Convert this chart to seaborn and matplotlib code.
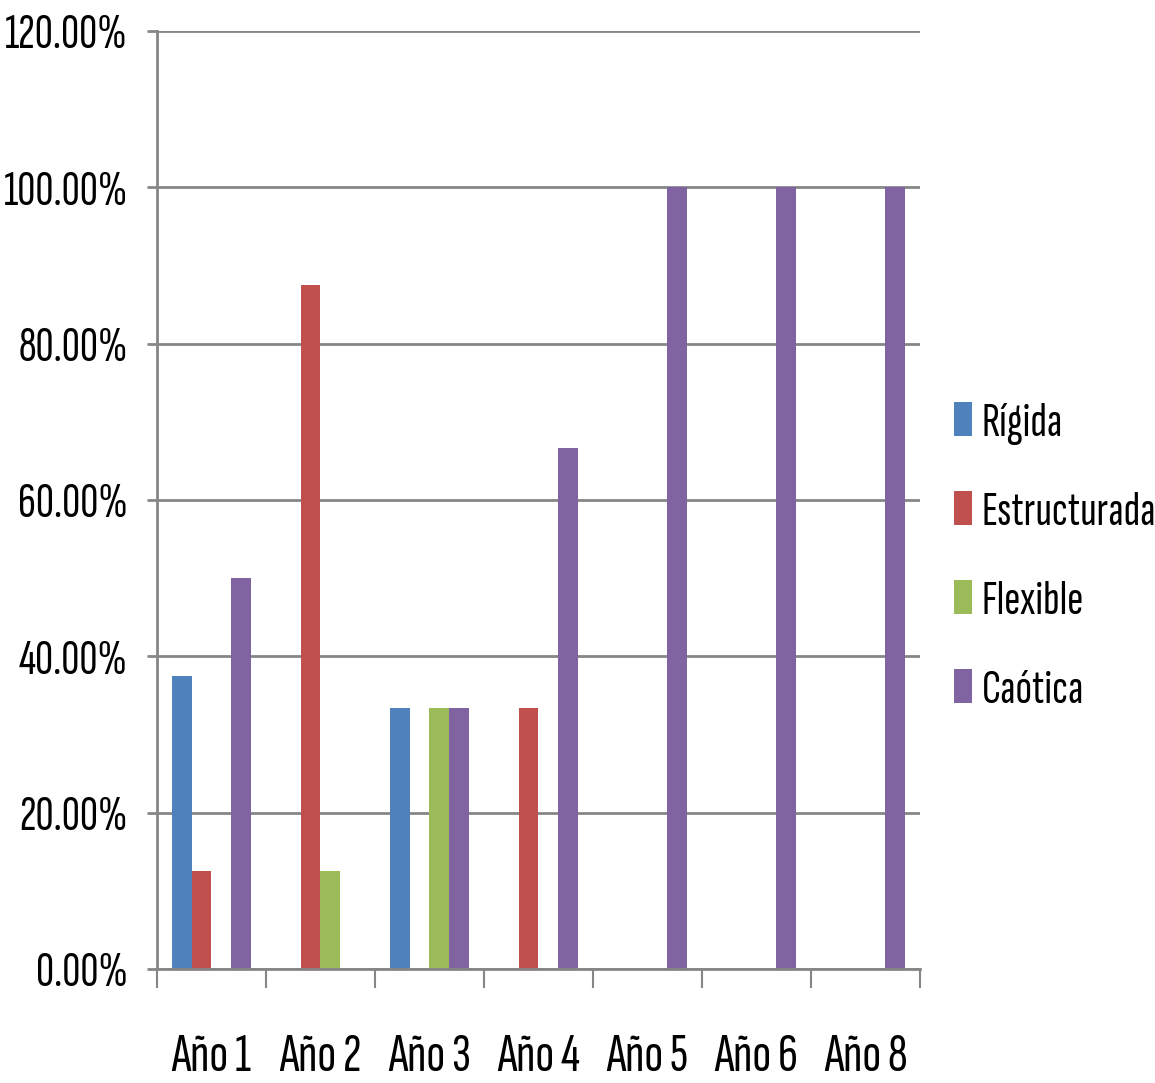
import matplotlib
matplotlib.use("Agg")
import matplotlib.pyplot as plt
from matplotlib.patches import Patch
from matplotlib.ticker import FixedLocator, FuncFormatter
import seaborn as sns
import pandas as pd

# Family type distribution by year (percent)
years = ["Año 1", "Año 2", "Año 3", "Año 4", "Año 5", "Año 6", "Año 8"]
series = ["Rígida", "Estructurada", "Flexible", "Caótica"]
rigida = [37.5, 0, 33.33, 0, 0, 0, 0]
estructurada = [12.5, 87.5, 0, 33.33, 0, 0, 0]
flexible = [0, 12.5, 33.33, 0, 0, 0, 0]
caotica = [50.0, 0, 33.33, 66.67, 100.0, 100.0, 100.0]
colors = ["#4F81BD", "#C0504D", "#9BBB59", "#8064A2"]

rows = []
for name, vals in zip(series, [rigida, estructurada, flexible, caotica]):
    for y, v in zip(years, vals):
        rows.append({"year": y, "tipo": name, "pct": v})
df = pd.DataFrame(rows)

sns.set_theme(style="white")
plt.rcParams["font.family"] = ["Sofia Sans Extra Condensed", "Fira Sans Extra Condensed",
                               "Roboto Condensed", "DejaVu Sans"]
plt.rcParams["text.color"] = "black"
plt.rcParams["xtick.color"] = "black"
plt.rcParams["ytick.color"] = "black"

fig = plt.figure(figsize=(11.55, 10.83), dpi=100)
ax = fig.add_axes([0.1359, 0.1053, 0.6606, 0.8661])

sns.barplot(data=df, x="year", y="pct", hue="tipo", order=years,
            hue_order=series, palette=colors, width=0.73, gap=0,
            saturation=1, ax=ax, legend=False, linewidth=0)

grid_c = "#868686"
ax.set_ylim(0, 120)
ax.set_xlim(-0.5, len(years) - 0.5)
ax.yaxis.set_major_locator(FixedLocator([0, 20, 40, 60, 80, 100, 120]))
ax.yaxis.set_major_formatter(FuncFormatter(lambda v, p: f"{v:.2f}%"))
ax.yaxis.grid(True, color=grid_c, linewidth=2)
ax.set_axisbelow(True)

for s in ["top", "right"]:
    ax.spines[s].set_visible(False)
for s in ["left", "bottom"]:
    ax.spines[s].set_color(grid_c)
    ax.spines[s].set_linewidth(2)

ax.xaxis.set_minor_locator(FixedLocator([i - 0.5 for i in range(len(years) + 1)]))
ax.tick_params(axis="x", which="major", length=0, pad=47, labelsize=40,
               labelcolor="black")
ax.tick_params(axis="x", which="minor", length=14, width=1.5, color=grid_c,
               direction="out", bottom=True)
ax.tick_params(axis="y", which="major", length=7, width=2, color=grid_c,
               direction="out", left=True, pad=14, labelsize=36,
               labelcolor="black")
ax.set_xlabel("")
ax.set_ylabel("")

handles = [Patch(facecolor=c, edgecolor="none") for c in colors]
ax.legend(handles, series, loc="center left", bbox_to_anchor=(1.019, 0.439),
          frameon=False, fontsize=35, handlelength=0.37, handleheight=0.68,
          handletextpad=0.2, labelspacing=0.95, labelcolor="black",
          borderaxespad=0)

fig.savefig("out.png", dpi=100, facecolor="white")
